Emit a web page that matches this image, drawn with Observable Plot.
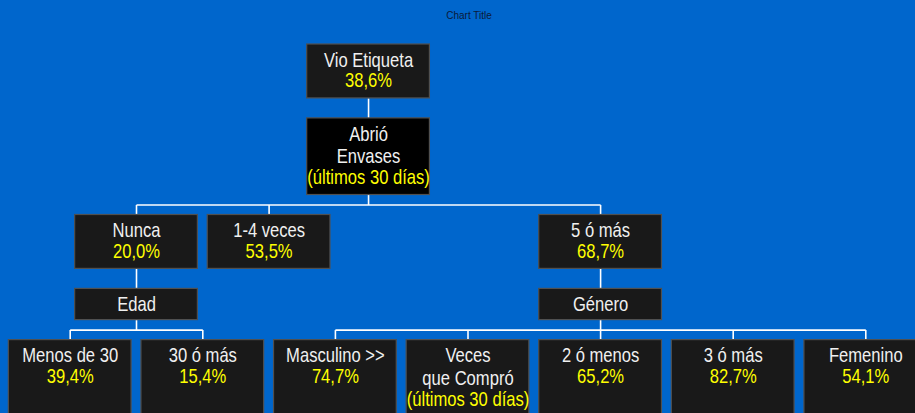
<!DOCTYPE html>
<html>
<head>
<meta charset="utf-8">
<script src="https://cdn.jsdelivr.net/npm/d3@7"></script>
<script src="https://cdn.jsdelivr.net/npm/@observablehq/plot@0.6"></script>
<style>
  html, body { margin: 0; padding: 0; background: #0066cc; overflow: hidden; }
  #chart svg { display: block; }
</style>
</head>
<body>
<div id="chart"></div>
<script>
// ---- Data ----
const chartTitle = "Chart Title";
const nodeLabels = ["Vio Etiqueta", "Abrió\nEnvases", "Nunca", "1-4 veces", "5 ó más", "Edad", "Género",
  "Menos de 30", "30 ó más", "Masculino >>", "Veces\nque Compró", "2 ó menos", "3 ó más", "Femenino"];
const nodeValues = ["38,6%", "(últimos 30 días)", "20,0%", "53,5%", "68,7%", "", "",
  "39,4%", "15,4%", "74,7%", "(últimos 30 días)", "65,2%", "82,7%", "54,1%"];
const nodeParents = [null, 0, 1, 1, 1, 2, 4, 5, 5, 6, 6, 6, 6, 6];

// ---- Layout (computed from tree structure) ----
const LINE_H = 22.7, PAD = 8.5, GAP = 20, TOP0 = 44, HALF_W = 0.4627;
const nodes = nodeLabels.map((label, i) => ({
  i, label, value: nodeValues[i], parent: nodeParents[i], children: []
}));
nodes.forEach(n => { if (n.parent !== null) nodes[n.parent].children.push(n); });
const root = nodes.find(n => n.parent === null);
function setDepth(n, d) { n.depth = d; n.children.forEach(c => setDepth(c, d + 1)); }
setDepth(root, 0);
const contour = [];
function place(n) {
  if (n.children.length === 0) {
    n.x = (contour[n.depth] ?? -1) + 1;
  } else {
    n.children.forEach(place);
    n.x = (n.children[0].x + n.children[n.children.length - 1].x) / 2;
  }
  contour[n.depth] = n.x;
}
place(root);
nodes.forEach(n => {
  n.labelLines = n.label.split("\n").length;
  n.lines = n.labelLines + (n.value ? 1 : 0);
});
const maxDepth = d3.max(nodes, n => n.depth);
const rowTop = [], rowBottom = [];
let yCur = TOP0;
for (let d = 0; d <= maxDepth; d++) {
  const lines = d3.max(nodes.filter(n => n.depth === d), n => n.lines);
  rowTop[d] = yCur;
  rowBottom[d] = yCur + lines * LINE_H + PAD;
  yCur = rowBottom[d] + GAP;
}
nodes.forEach(n => {
  n.x1 = n.x - HALF_W; n.x2 = n.x + HALF_W;
  n.y1 = rowTop[n.depth]; n.y2 = rowBottom[n.depth];
  n.ty = n.y1 + 6;
  n.vy = n.ty + n.labelLines * LINE_H;
});
// connectors
const segs = [];
nodes.forEach(n => {
  if (!n.children.length) return;
  const busY = n.y2 + GAP / 2;
  if (n.children.length === 1) {
    segs.push({x1: n.x, y1: n.y2, x2: n.x, y2: n.children[0].y1});
    return;
  }
  segs.push({x1: n.x, y1: n.y2, x2: n.x, y2: busY});
  const xs = n.children.map(c => c.x);
  segs.push({x1: d3.min(xs), y1: busY, x2: d3.max(xs), y2: busY});
  n.children.forEach(c => segs.push({x1: c.x, y1: busY, x2: c.x, y2: c.y1}));
});

const FONT = "Arial, 'Liberation Sans', sans-serif";
const chart = Plot.plot({
  width: 915,
  height: 413,
  margin: 0,
  style: {background: "#0066cc", overflow: "hidden"},
  x: {domain: [0, 6], range: [69.7, 865.3], axis: null},
  y: {domain: [0, 413], range: [0, 413], axis: null},
  marks: [
    Plot.link(segs, {x1: "x1", y1: "y1", x2: "x2", y2: "y2", stroke: "#ffffff", strokeWidth: 1.6}),
    Plot.rect(nodes, {x1: "x1", x2: "x2", y1: "y1", y2: "y2",
      fill: d => d.i === 1 ? "#000000" : "#191919", stroke: "#505050", strokeWidth: 1.2}),
    Plot.text(nodes, {x: "x", y: "ty", text: "label", fill: "#f0f0f0", fontSize: 20,
      fontFamily: FONT, lineAnchor: "top", lineHeight: LINE_H / 20, textAnchor: "middle",
      className: "narrow"}),
    Plot.text(nodes.filter(n => n.value), {x: "x", y: "vy", text: "value", fill: "#ffff00", fontSize: 20,
      fontFamily: FONT, lineAnchor: "top", textAnchor: "middle", className: "narrow"}),
    Plot.text([chartTitle], {x: 3.008, y: 15, text: d => d, fill: "#0b1a3a", fontSize: 10,
      fontFamily: FONT, textAnchor: "middle"})
  ]
});
// condense the box labels horizontally (narrow typeface look)
chart.querySelectorAll("g.narrow text").forEach(t => {
  const tr = t.getAttribute("transform") || "";
  t.setAttribute("transform", tr + " scale(0.83,1)");
});
document.getElementById("chart").appendChild(chart);
</script>
</body>
</html>
